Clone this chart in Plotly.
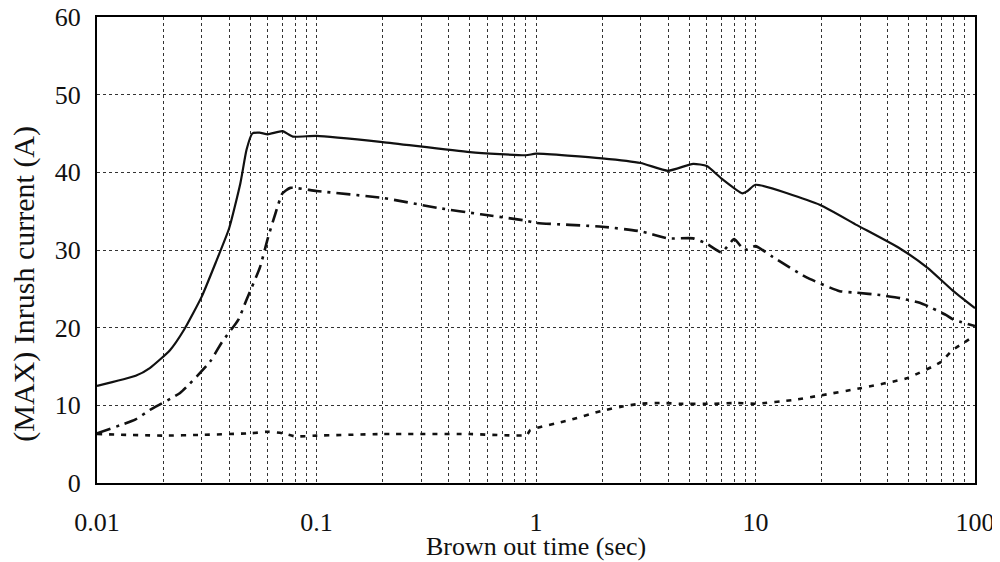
import plotly.graph_objects as go

# Brown out time (sec) and max inrush current (A)
solid_x = [0.01, 0.015, 0.0174, 0.0215, 0.025, 0.03, 0.035, 0.04, 0.045, 0.048, 0.051, 0.055, 0.06, 0.07, 0.078,
           0.1, 0.2, 0.5, 0.9, 1.0, 2, 3, 4, 5.2, 6, 7, 8.7, 9.2, 10, 19.7, 29, 45.5, 60.8, 79, 100]
solid_y = [12.5, 13.8, 14.8, 17.1, 19.8, 24.0, 28.6, 32.8, 38.6, 42.9, 45.0, 45.1, 44.9, 45.3, 44.6,
           44.7, 43.9, 42.6, 42.2, 42.4, 41.8, 41.2, 40.2, 41.1, 40.8, 39.2, 37.3, 37.6, 38.4, 35.8, 33.2, 30.2, 27.7, 24.8, 22.5]

dashdot_x = [0.01, 0.015, 0.0174, 0.0239, 0.0327, 0.037, 0.044, 0.048, 0.0553, 0.06, 0.065, 0.07, 0.076, 0.1,
             0.2, 0.36, 0.56, 0.89, 1.0, 2, 3, 4, 5.2, 6, 7, 8, 8.9, 10, 12, 17, 24.2, 29, 36.9, 45.5, 56, 64, 74, 79, 100]
dashdot_y = [6.4, 8.2, 9.4, 11.6, 15.6, 18.1, 21.0, 23.6, 27.8, 31.5, 34.7, 37.3, 38.0, 37.6,
             36.7, 35.4, 34.6, 33.8, 33.5, 33.0, 32.4, 31.5, 31.5, 30.8, 29.7, 31.4, 30.0, 30.5, 29.1, 26.5, 24.7, 24.5, 24.2, 23.8, 23.2, 22.5, 21.6, 21.1, 20.2]

dotted_x = [0.01, 0.02, 0.03, 0.05, 0.06, 0.07, 0.08, 0.1, 0.2, 0.5, 0.91, 0.94, 1.42, 2.0, 2.42, 2.98, 3.8,
            4.5, 6.4, 8.3, 10, 15, 20, 30, 49, 70, 79, 89.5, 100]
dotted_y = [6.3, 6.1, 6.2, 6.4, 6.6, 6.4, 6.0, 6.1, 6.3, 6.3, 6.2, 6.8, 8.1, 9.3, 9.8, 10.2, 10.3,
            10.2, 10.2, 10.3, 10.2, 10.7, 11.3, 12.2, 13.5, 15.6, 17.1, 18.1, 19.0]

x_tickvals = [0.01, 0.1, 1, 10, 100]
x_ticktext = ["0.01", "0.1", "1", "10", "100"]
y_tickvals = [0, 10, 20, 30, 40, 50, 60]

ink = "#111111"
serif = "Liberation Serif, Times New Roman, serif"
fig = go.Figure()
fig.add_trace(go.Scatter(x=solid_x, y=solid_y, mode="lines",
                         line=dict(color=ink, width=2.2, shape="spline", smoothing=0.5)))
fig.add_trace(go.Scatter(x=dashdot_x, y=dashdot_y, mode="lines",
                         line=dict(color=ink, width=2.6, dash="14px,6px,3px,6px", shape="spline", smoothing=0.5)))
fig.add_trace(go.Scatter(x=dotted_x, y=dotted_y, mode="lines",
                         line=dict(color=ink, width=2.6, dash="5px,7px", shape="spline", smoothing=0.5)))

# page body has an 8px default margin, so the figure is 992x554
fig.update_layout(
    width=992, height=554,
    margin=dict(l=89, r=25, t=9, b=79, autoexpand=False),
    paper_bgcolor="white", plot_bgcolor="white",
    showlegend=False,
    font=dict(family=serif, size=26, color=ink),
    annotations=[
        dict(text="Brown out time (sec)", xref="paper", yref="paper", x=0.5, y=-0.137,
             xanchor="center", yanchor="middle", showarrow=False, font=dict(family=serif, size=26, color=ink)),
        dict(text="(MAX) Inrush current (A)", xref="paper", yref="paper", x=-0.0835, y=0.427,
             xanchor="center", yanchor="middle", textangle=-90, showarrow=False,
             font=dict(family=serif, size=30, color=ink)),
    ],
)
fig.update_xaxes(
    type="log", range=[-2, 2], tickvals=x_tickvals, ticktext=x_ticktext, automargin=False,
    ticks="outside", ticklen=15, tickcolor="rgba(0,0,0,0)", ticklabeloverflow="allow",
    showgrid=True, gridcolor="#333333", griddash="dot", gridwidth=1,
    minor=dict(dtick="D1", showgrid=True, gridcolor="#333333", griddash="dot", gridwidth=1),
    showline=True, linecolor="black", linewidth=2, mirror=True, zeroline=False,
    tickfont=dict(family=serif, size=26, color=ink),
)
fig.update_yaxes(
    range=[0, 60], tickvals=y_tickvals, automargin=False,
    ticks="outside", ticklen=9, tickcolor="rgba(0,0,0,0)", ticklabeloverflow="allow",
    showgrid=True, gridcolor="#333333", griddash="dot", gridwidth=1,
    showline=True, linecolor="black", linewidth=2, mirror=True, zeroline=False,
    tickfont=dict(family=serif, size=26, color=ink),
)
fig.write_html("out.html")
